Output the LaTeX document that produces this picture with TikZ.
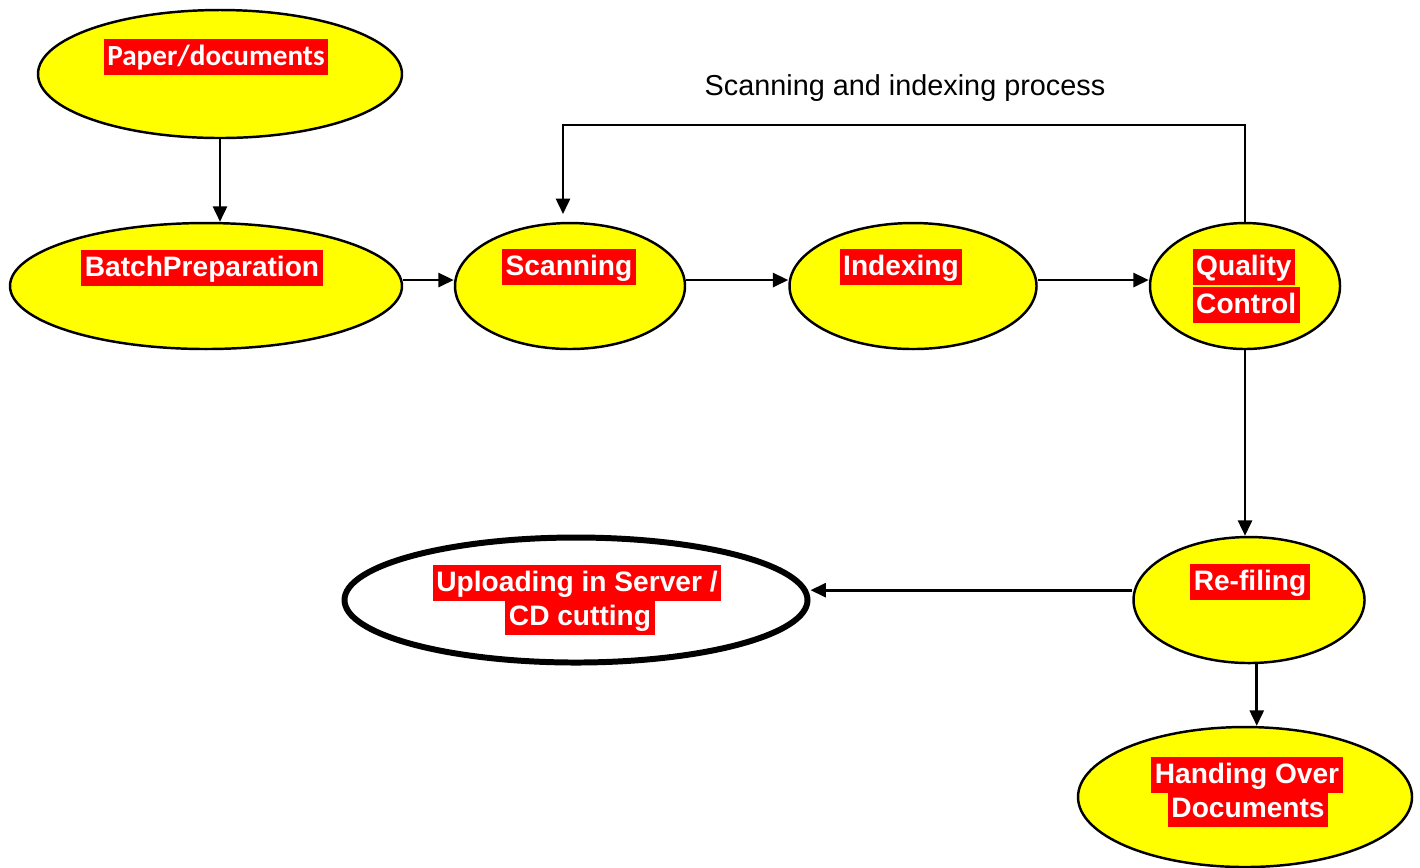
\documentclass[tikz,border=0pt]{standalone}
\usepackage{fontspec}
\setmainfont{Liberation Sans}
\newfontfamily\carlito{Carlito}
\usetikzlibrary{arrows.meta}
\usetikzlibrary{shapes.geometric}
\definecolor{blobyellow}{RGB}{255,255,0}
\definecolor{tagred}{RGB}{255,0,0}
\tikzset{
  blob/.style={draw, ellipse, fill=blobyellow, line width=0.7pt, inner sep=0pt},
  tag/.style={fill=tagred, text=white, font=\fontsize{8}{9.6}\selectfont\bfseries,
    inner xsep=1pt, inner ysep=0.6pt, text height=7pt, text depth=2.2pt},
  flow/.style={line width=0.75pt, -{Triangle[length=4.4pt,width=4pt]}}
}
\begin{document}
\begin{tikzpicture}[x=0.1mm,y=-0.1mm]
  \useasboundingbox (0,0) rectangle (1420,867);

  \node[blob, minimum width=36.4mm, minimum height=12.8mm] (Paper) at (220,74) {};
  \node[blob, minimum width=39.2mm, minimum height=12.6mm] (Batch) at (206,286) {};
  \node[blob, minimum width=23mm, minimum height=12.6mm] (Scanning) at (570,286) {};
  \node[blob, minimum width=24.7mm, minimum height=12.6mm] (Indexing) at (913,286) {};
  \node[blob, minimum width=19mm, minimum height=12.6mm] (QC) at (1245,286) {};
  \node[blob, minimum width=23.1mm, minimum height=12.6mm] (Refiling) at (1249,600) {};
  \node[blob, fill=white, line width=1.7pt, minimum width=46.3mm, minimum height=12.5mm] (Upload) at (576,600) {};
  \node[blob, minimum width=33.4mm, minimum height=14mm] (Handover) at (1245,797) {};

  \node[tag, font=\fontsize{8.3}{10}\selectfont\carlito\bfseries] (PaperTxt) at (216,57) {Paper/documents};
  \node[tag] (BatchTxt) at (202,268) {BatchPreparation};
  \node[tag] (ScanningTxt) at (569,267) {Scanning};
  \node[tag] (IndexingTxt) at (901,267) {Indexing};
  \node[tag, anchor=west] (QCTxtA) at (1192,267) {Quality\ };
  \node[tag, anchor=west] (QCTxtB) at (1192,305) {Control};
  \node[tag] (RefilingTxt) at (1250,582) {Re-filing};
  \node[tag] (UploadTxtA) at (577,583) {Uploading in Server /};
  \node[tag] (UploadTxtB) at (580,617) {CD cutting\ };
  \node[tag] (HandoverTxtA) at (1247,775) {Handing Over};
  \node[tag] (HandoverTxtB) at (1248,809) {Documents};

  \node[font=\fontsize{8.2}{9.8}\selectfont] (Title) at (905,88) {Scanning and indexing process};
  \coordinate (Loop) at (563,125);

  \draw[flow] (Paper.south) -- (Paper.south |- Batch.north);
  \draw[flow] ([yshift=1.7pt]Batch.east) -- ([yshift=1.7pt]Scanning.west);
  \draw[flow] ([yshift=1.7pt]Scanning.east) -- ([yshift=1.7pt]Indexing.west);
  \draw[flow] ([yshift=1.7pt]Indexing.east) -- ([yshift=1.7pt]QC.west);
  \draw[flow, shorten >=2.2pt] (QC.north) |- (Loop) -- (Loop |- Scanning.north);
  \draw[flow] (QC.south) -- (QC.south |- Refiling.north);
  \draw[flow] ([yshift=2.8pt]Refiling.west) -- ([yshift=2.8pt]Upload.east);
  \draw[flow] ([xshift=2.2pt]Refiling.south) -- ([xshift=2.2pt]Refiling.south |- Handover.north);
\end{tikzpicture}
\end{document}
